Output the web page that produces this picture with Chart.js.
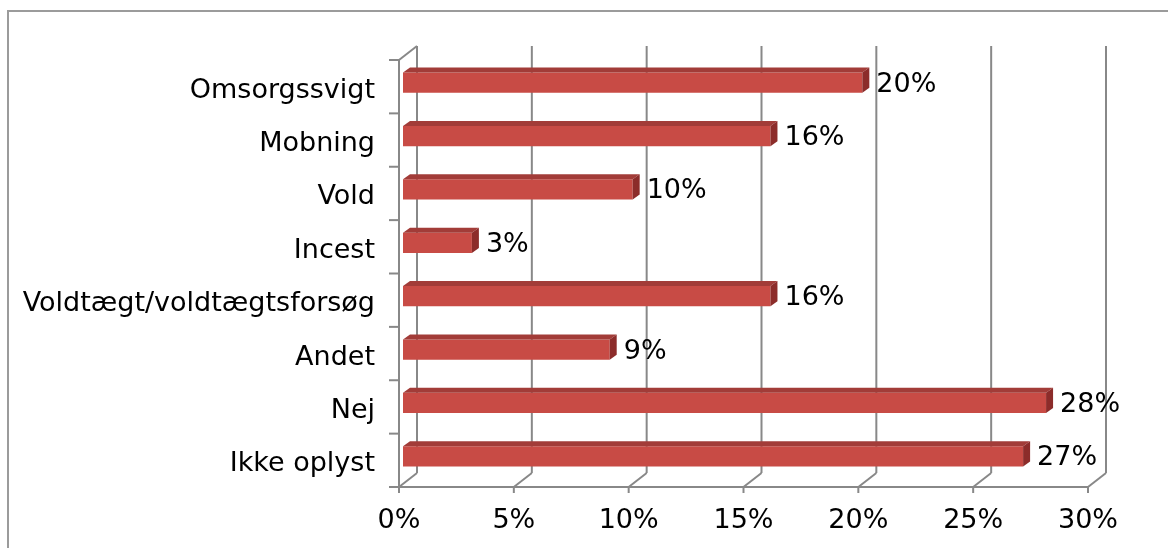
<!DOCTYPE html>
<html>
<head>
<meta charset="utf-8">
<script src="https://cdn.jsdelivr.net/npm/chart.js@4"></script>
<style>
  html, body { margin: 0; padding: 0; background: #fff; }
  #wrap { width: 1168px; height: 548px; }
</style>
</head>
<body>
<div id="wrap"><canvas id="chart"></canvas></div>
<script>
const categories = ['Omsorgssvigt', 'Mobning', 'Vold', 'Incest', 'Voldtægt/voldtægtsforsøg', 'Andet', 'Nej', 'Ikke oplyst'];
const shares = [20, 16, 10, 3, 16, 9, 28, 27];
const xTicks = [0, 5, 10, 15, 20, 25, 30];

const FONT = '"DejaVu Sans", Verdana, sans-serif';
const FONT_SIZE = 27;
const GRID = '#888888';
// offset of the back wall from the front edge (fake 3D)
const DEPTH_X = 18;
const DEPTH_Y = 14;
// bars sit a bit behind the front plane
const BAR_DX = 4;
const BAR_DY = -4;
// thickness of the bar top / end faces
const FACE_DX = 7;
const FACE_DY = 5;

function line(ctx, x1, y1, x2, y2) {
  ctx.beginPath();
  ctx.moveTo(x1, y1);
  ctx.lineTo(x2, y2);
  ctx.stroke();
}

function poly(ctx, pts, fill) {
  ctx.beginPath();
  ctx.moveTo(pts[0][0], pts[0][1]);
  for (let i = 1; i < pts.length; i++) ctx.lineTo(pts[i][0], pts[i][1]);
  ctx.closePath();
  ctx.fillStyle = fill;
  ctx.fill();
}

const threeD = {
  id: 'threeD',
  beforeDraw(chart) {
    const ctx = chart.ctx;
    ctx.save();
    ctx.fillStyle = '#fff';
    ctx.fillRect(0, 0, chart.width, chart.height);
    ctx.strokeStyle = '#9b9b9b';
    ctx.lineWidth = 2;
    ctx.strokeRect(8, 11, 1400, 800);
    ctx.restore();
  },
  beforeDatasetsDraw(chart) {
    const { ctx, chartArea: a, scales: { x } } = chart;
    ctx.save();
    ctx.strokeStyle = GRID;
    ctx.lineWidth = 2;
    // back wall grid lines + floor diagonals + front ticks
    xTicks.forEach((v) => {
      const px = x.getPixelForValue(v);
      line(ctx, px + DEPTH_X, a.top - DEPTH_Y, px + DEPTH_X, a.bottom - DEPTH_Y);
      line(ctx, px + DEPTH_X, a.bottom - DEPTH_Y, px, a.bottom);
      line(ctx, px, a.bottom, px, a.bottom + 6);
    });
    // floor front edge
    line(ctx, a.left, a.bottom, a.right, a.bottom);
    // left wall
    line(ctx, a.left, a.top, a.left, a.bottom);
    line(ctx, a.left, a.top, a.left + DEPTH_X, a.top - DEPTH_Y);
    // category ticks on the left wall
    const band = (a.bottom - a.top) / categories.length;
    for (let i = 0; i <= categories.length; i++) {
      const py = a.top + band * i;
      line(ctx, a.left - 10, py, a.left, py);
    }
    ctx.restore();
    ctx.save();
    ctx.translate(BAR_DX, BAR_DY);
  },
  afterDatasetsDraw(chart) {
    const ctx = chart.ctx;
    const meta = chart.getDatasetMeta(0);
    meta.data.forEach((bar, i) => {
      const top = bar.y - bar.height / 2;
      const bottom = bar.y + bar.height / 2;
      const x0 = bar.base;
      const x1 = bar.x;
      // top face
      poly(ctx, [[x0, top], [x1, top], [x1 + FACE_DX, top - FACE_DY], [x0 + FACE_DX, top - FACE_DY]], '#a23c38');
      // end face
      poly(ctx, [[x1, top], [x1 + FACE_DX, top - FACE_DY], [x1 + FACE_DX, bottom - FACE_DY], [x1, bottom]], '#8c2c2a');
      // value label
      ctx.fillStyle = '#000';
      ctx.font = FONT_SIZE + 'px ' + FONT;
      ctx.textAlign = 'left';
      ctx.textBaseline = 'middle';
      ctx.fillText(shares[i] + '%', x1 + FACE_DX + 7, bar.y + 2);
    });
    ctx.restore();
  },
};

new Chart(document.getElementById('chart'), {
  type: 'bar',
  data: {
    labels: categories,
    datasets: [{
      data: shares,
      backgroundColor: (c) => {
        const area = c.chart.chartArea;
        if (!area) return '#c84b45';
        const el = c.element;
        if (!el || el.y === undefined) return '#c84b45';
        const g = c.chart.ctx.createLinearGradient(0, el.y - el.height / 2, 0, el.y + el.height / 2);
        g.addColorStop(0, '#cd544e');
        g.addColorStop(0.5, '#c84b45');
        g.addColorStop(1, '#b6413c');
        return g;
      },
      borderWidth: 0,
      categoryPercentage: 1,
      barPercentage: 0.38,
    }],
  },
  options: {
    indexAxis: 'y',
    responsive: true,
    maintainAspectRatio: false,
    animation: false,
    layout: { padding: { top: 60, right: 80, left: 0, bottom: 0 } },
    scales: {
      x: {
        min: xTicks[0],
        max: xTicks[xTicks.length - 1],
        ticks: {
          stepSize: xTicks[1] - xTicks[0],
          callback: (v) => v + '%',
          color: '#000',
          font: { family: FONT, size: FONT_SIZE },
          padding: 18,
          maxRotation: 0,
        },
        grid: { display: false, drawTicks: false },
        border: { display: false },
        afterFit: (s) => { s.height = 61; },
      },
      y: {
        ticks: {
          color: '#000',
          font: { family: FONT, size: FONT_SIZE },
          padding: 24,
          labelOffset: 4,
        },
        grid: { display: false, drawTicks: false },
        border: { display: false },
        afterFit: (s) => { s.width = 399; },
      },
    },
    plugins: {
      legend: { display: false },
      tooltip: { enabled: false },
    },
  },
  plugins: [threeD],
});
</script>
</body>
</html>
